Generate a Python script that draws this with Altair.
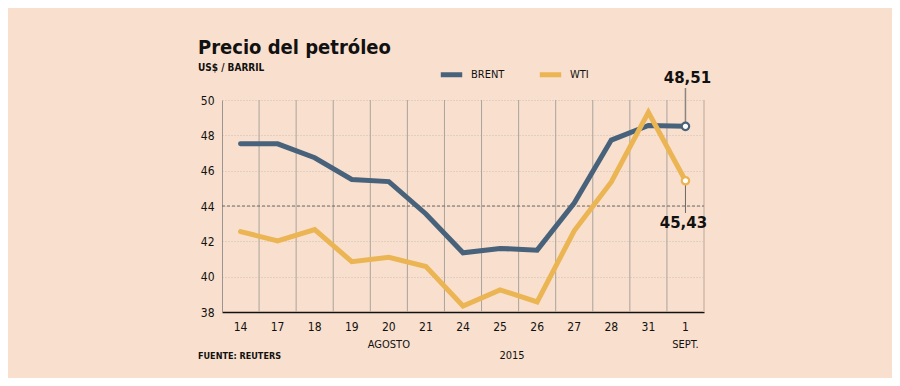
import altair as alt
import pandas as pd

dates = ["14", "17", "18", "19", "20", "21", "24", "25", "26", "27", "28", "31", "1"]
brent = [47.53, 47.52, 46.73, 45.5, 45.38, 43.55, 41.35, 41.6, 41.5, 44.17, 47.73, 48.56, 48.51]
wti = [42.55, 42.03, 42.67, 40.85, 41.1, 40.57, 38.34, 39.25, 38.57, 42.6, 45.36, 49.3, 45.43]
series = ["BRENT", "WTI"]
colors = ["#47627a", "#ebb553"]
y_ticks = [38, 40, 42, 44, 46, 48, 50]
month_labels = [("20", "AGOSTO"), ("1", "SEPT.")]

FONT = "DejaVu Sans Condensed, Liberation Sans Narrow, DejaVu Sans, sans-serif"
BG = "#f9dfcd"

rows = []
for d, b, w in zip(dates, brent, wti):
    rows.append({"fecha": d, "serie": "BRENT", "valor": b})
    rows.append({"fecha": d, "serie": "WTI", "valor": w})
df = pd.DataFrame(rows)

xscale = alt.Scale(domain=dates, paddingInner=0, paddingOuter=0)
yscale = alt.Scale(domain=[38, 50], nice=False, zero=False)

xaxis = alt.Axis(title=None, labelAngle=0, ticks=False, labelPadding=9,
                 bandPosition=0.5, labelAlign="center",
                 labelFontSize=12, labelFont=FONT, labelColor="#111",
                 domainColor="#111", domainWidth=1.5, grid=False)
yaxis = alt.Axis(title=None, values=y_ticks, ticks=False, labelPadding=8,
                 labelOverlap=False, labelFlush=False,
                 labelFontSize=12, labelFont=FONT, labelColor="#111",
                 domainColor="#9a9590", grid=True, gridColor="#cdbfb3",
                 gridDash=[1, 2], gridWidth=1)


def XN(bp=None):
    if bp is None:
        return alt.X("fecha:O", scale=xscale, sort=dates, axis=xaxis)
    return alt.X("fecha:O", scale=xscale, sort=dates, axis=xaxis, bandPosition=bp)


YN = alt.Y("valor:Q", scale=yscale, axis=yaxis)

bounds = pd.DataFrame({"fecha": dates[1:]})
vgrid = alt.Chart(bounds).mark_rule(color="#aaa39c", strokeWidth=1).encode(
    x=XN(0), y=alt.value(0), y2=alt.value(212))
rightedge = alt.Chart(pd.DataFrame({"fecha": [dates[-1]]})).mark_rule(
    color="#d9c4b3", strokeWidth=2).encode(
    x=XN(1), y=alt.value(0), y2=alt.value(212))

ref44 = alt.Chart(pd.DataFrame({"valor": [44]})).mark_rule(
    color="#6e6863", strokeDash=[3, 2], strokeWidth=1).encode(
    y=YN, x=alt.value(0), x2=alt.value(482))

color = alt.Color("serie:N", scale=alt.Scale(domain=series, range=colors),
                  legend=alt.Legend(title=None, orient="none", legendX=216, legendY=-39,
                                    direction="horizontal", symbolType="stroke",
                                    symbolStrokeWidth=5, symbolSize=460,
                                    labelFont=FONT, labelFontSize=11,
                                    labelColor="#111", columnPadding=24,
                                    labelOffset=6))

lines = alt.Chart(df).mark_line(strokeWidth=5, strokeCap="round", strokeJoin="miter").encode(
    x=XN(), y=YN, color=color)

last = df[df["fecha"] == dates[-1]].copy()
last["txt"] = last["valor"].map(lambda v: f"{v:.2f}".replace(".", ","))

lb = last[last["serie"] == "BRENT"]
lw = last[last["serie"] == "WTI"]

lead_b = alt.Chart(lb).mark_rule(color="#8a8580", strokeWidth=1.5).encode(
    x=XN(), y=YN, y2=alt.value(-12))
lead_w = alt.Chart(lw).mark_rule(color="#6e6863", strokeWidth=1).encode(
    x=XN(), y=YN, y2=alt.value(113))

pts = alt.Chart(last).mark_point(filled=False, fill="white", fillOpacity=1,
                                 size=55, strokeWidth=2.2, opacity=1).encode(
    x=XN(), y=YN,
    stroke=alt.Stroke("serie:N", scale=alt.Scale(domain=series, range=colors), legend=None))

lab_b = alt.Chart(lb).mark_text(font="DejaVu Sans", fontWeight="bold", fontSize=15,
                                color="#111", baseline="alphabetic", dx=2).encode(
    x=XN(), y=alt.value(-17), text="txt:N")
lab_w = alt.Chart(lw).mark_text(font="DejaVu Sans", fontWeight="bold", fontSize=15,
                                color="#111", baseline="alphabetic", dx=-2).encode(
    x=XN(), y=alt.value(128), text="txt:N")

months = alt.Chart(pd.DataFrame(month_labels, columns=["fecha", "t"])).mark_text(
    font=FONT, fontSize=11, color="#111", baseline="alphabetic").encode(
    x=XN(), y=alt.value(248), text="t:N")


def label(txt, x, y, size, weight="normal", align="left", font=FONT):
    return alt.Chart(pd.DataFrame({"t": [txt]})).mark_text(
        font=font, fontSize=size, fontWeight=weight, color="#111",
        align=align, baseline="alphabetic").encode(
        x=alt.value(x), y=alt.value(y), text="t:N")


year = label("2015", 290, 259, 11, align="center")
title = label("Precio del petróleo", -24, -46, 20, weight="bold",
              font="DejaVu Sans Condensed, DejaVu Sans, sans-serif")
subtitle = label("US$ / BARRIL", -24, -29, 10, weight="bold")
source = label("FUENTE: REUTERS", -24, 259, 9, weight="bold")

chart = alt.layer(
    vgrid, rightedge, ref44, lines, lead_b, lead_w, pts, lab_b, lab_w,
    months, year, title, subtitle, source
).resolve_scale(color="independent", stroke="independent").properties(
    width=482, height=212,
    autosize=alt.AutoSizeParams(type="none"),
    padding={"left": 214, "top": 92, "right": 188, "bottom": 66},
    background=BG,
).configure_view(stroke=None)

chart.save("out.html", embed_options={"renderer": "svg", "actions": False})
